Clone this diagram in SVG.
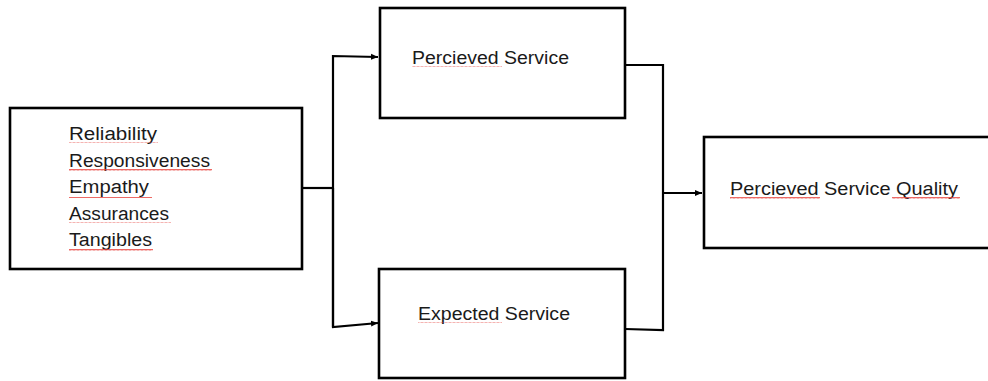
<svg xmlns="http://www.w3.org/2000/svg" width="988" height="381" viewBox="0 0 988 381">
<style>
.box{fill:#fff;stroke:#000;stroke-width:2.6}
.ln{fill:none;stroke:#000;stroke-width:2.2}
.t{font-family:"Liberation Sans",Arial,sans-serif;font-size:18px;fill:#1a1a1a}
.sq{fill:none;stroke:#e8413c;stroke-width:0.9;opacity:0.8}
</style>
<defs>
<marker id="ah" markerWidth="8" markerHeight="8" refX="7" refY="4" orient="auto" markerUnits="userSpaceOnUse">
<path d="M0,1 L7,4 L0,7 Z" fill="#000"/>
</marker>
<pattern id="wv" width="4" height="4" patternUnits="userSpaceOnUse">
<path d="M0,2.5 L1,1 L2,2.5 L3,1 L4,2.5" fill="none" stroke="#e8413c" stroke-width="0.9"/>
</pattern>
</defs>
<rect width="988" height="381" fill="#fff"/>
<g id="connectors">
<polyline class="ln" points="302,188 333,188"/>
<polyline class="ln" points="333,327 333,56 378,57" marker-end="url(#ah)"/>
<polyline class="ln" points="333,188 333,327 378,323" marker-end="url(#ah)"/>
<polyline class="ln" points="625,65 663,65 663,330 625,329"/>
<polyline class="ln" points="663,193 702,193" marker-end="url(#ah)"/>
</g>
<g id="dimensions">
<rect class="box" x="10" y="108" width="292" height="161"/>
<text class="t" x="69" y="140" textLength="88" lengthAdjust="spacingAndGlyphs">Reliability</text>
<text class="t" x="69" y="167" textLength="141" lengthAdjust="spacingAndGlyphs">Responsiveness</text>
<text class="t" x="69" y="193" textLength="80" lengthAdjust="spacingAndGlyphs">Empathy</text>
<text class="t" x="69" y="220" textLength="100" lengthAdjust="spacingAndGlyphs">Assurances</text>
<text class="t" x="69" y="246" textLength="83" lengthAdjust="spacingAndGlyphs">Tangibles</text>
<rect x="69" y="142" width="89" height="3" fill="url(#wv)"/>
<rect x="69" y="169" width="143" height="3" fill="url(#wv)"/>
<rect x="69" y="195" width="83" height="3" fill="url(#wv)"/>
<rect x="69" y="222" width="102" height="3" fill="url(#wv)"/>
<rect x="69" y="248" width="84" height="3" fill="url(#wv)"/>
</g>
<g id="perceived">
<rect class="box" x="380" y="8" width="245" height="110"/>
<text class="t" x="412" y="64" textLength="157" lengthAdjust="spacingAndGlyphs">Percieved Service</text>
<rect x="412" y="66" width="90" height="3" fill="url(#wv)"/>
</g>
<g id="expected">
<rect class="box" x="379" y="269" width="246" height="109"/>
<text class="t" x="418" y="320" textLength="152" lengthAdjust="spacingAndGlyphs">Expected Service</text>
<rect x="418" y="322" width="84" height="3" fill="url(#wv)"/>
</g>
<g id="quality">
<rect class="box" x="704" y="137" width="300" height="111"/>
<text class="t" x="730" y="195" textLength="228" lengthAdjust="spacingAndGlyphs">Percieved Service Quality</text>
<rect x="730" y="197" width="90" height="3" fill="url(#wv)"/>
<rect x="892" y="197" width="68" height="3" fill="url(#wv)"/>
</g>
</svg>
